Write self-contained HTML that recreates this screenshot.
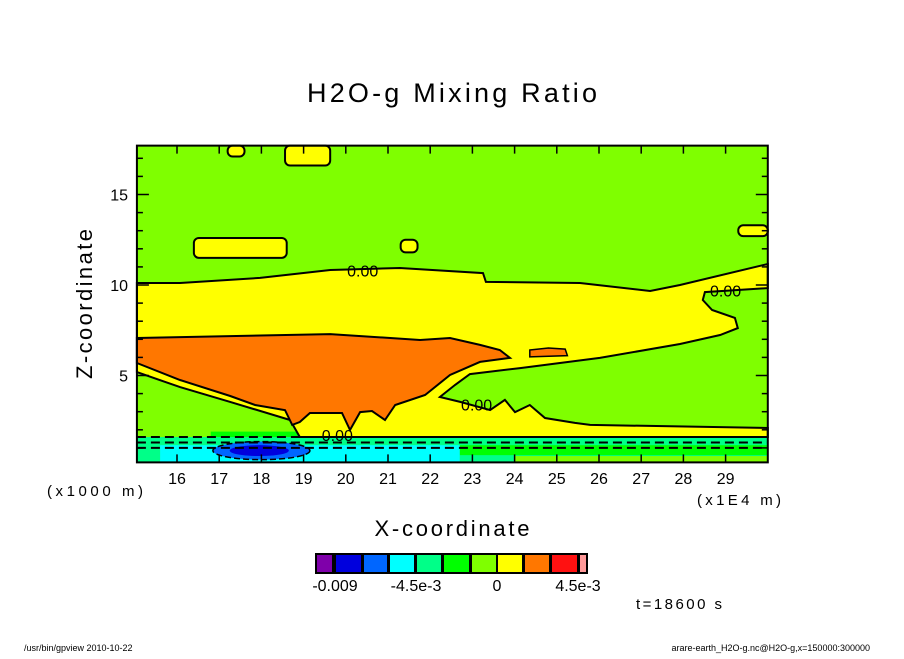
<!DOCTYPE html>
<html><head><meta charset="utf-8"><style>
body{margin:0;background:#fff;}
svg text{font-family:"Liberation Sans",sans-serif;fill:#000;}
</style></head><body>
<svg id="c" width="904" height="654" viewBox="0 0 904 654" xmlns="http://www.w3.org/2000/svg">
<text x="452" y="102" font-size="27" text-anchor="middle" textLength="290" lengthAdjust="spacing">H2O-g Mixing Ratio</text>
<g id="plot"></g>
<text x="452" y="536" font-size="22" text-anchor="middle" textLength="155" lengthAdjust="spacing">X-coordinate</text>
<text transform="translate(92,304) rotate(-90)" font-size="22" text-anchor="middle" textLength="150" lengthAdjust="spacing">Z-coordinate</text>
<text x="95" y="496" font-size="15" text-anchor="middle" textLength="96" lengthAdjust="spacing">(x1000 m)</text>
<text x="739" y="505" font-size="15" text-anchor="middle" textLength="84" lengthAdjust="spacing">(x1E4 m)</text>
<g id="cbar"></g>
<text x="679" y="609" font-size="15" text-anchor="middle" textLength="86" lengthAdjust="spacing">t=18600 s</text>
<text x="24" y="651" font-size="9">/usr/bin/gpview   2010-10-22</text>
<text x="870" y="651" font-size="9" text-anchor="end">arare-earth_H2O-g.nc@H2O-g,x=150000:300000</text>
</svg>
<script>
const xTicks=[16,17,18,19,20,21,22,23,24,25,26,27,28,29];
const zTicks=[5,10,15];
const cbColors=["#7f00aa","#0000dd","#0066ff","#00ffff","#00ff88","#00ff00","#7fff00","#ffff00","#ff7700","#ff1111","#ff9999"];
const cbLabels=["-0.009","-4.5e-3","0","4.5e-3"];
const yellowMain=[[15.05,10.11],[16.07,10.11],[17.97,10.39],[19.63,10.83],[21.28,10.94],[23.25,10.66],[23.32,10.17],[25.55,10.11],[27.21,9.67],[27.92,10.0],[30,11.16],[30,9.83],[28.51,9.61],[28.46,9.17],[28.68,8.62],[29.22,8.18],[29.29,7.62],[28.87,7.24],[27.92,6.74],[26.02,5.97],[24.13,5.41],[22.94,5.08],[22.59,4.48],[22.23,3.81],[22.71,3.54],[23.42,3.09],[23.77,3.65],[24.01,2.98],[24.36,3.37],[24.72,2.65],[25.43,2.38],[25.79,2.27],[30,2.10],[30,1.60],[18.91,1.60],[18.68,2.54],[17.26,3.54],[16.07,4.36],[15.05,5.19]];
const orangeMain=[[15.05,7.07],[19.63,7.29],[21.76,6.96],[22.47,7.07],[23.18,6.69],[23.65,6.41],[23.89,5.97],[23.18,5.75],[22.47,5.03],[21.88,3.92],[21.17,3.37],[20.93,2.54],[20.62,3.04],[20.34,2.98],[20.10,1.99],[19.91,2.93],[19.15,2.93],[18.91,2.43],[18.73,2.27],[18.56,3.09],[17.85,3.37],[17.26,3.87],[16.07,4.75],[15.05,5.69]];
const orangeSmall=[[24.36,6.41],[24.8,6.52],[25.2,6.46],[25.25,6.1],[24.36,6.03]];
const yellowBlobs=[[17.2,17.1,17.6,17.7],[18.56,16.6,19.63,17.7],[16.4,11.5,18.6,12.6],[21.3,11.8,21.7,12.5],[29.3,12.7,30,13.3]];
const contourLabels=[[20.4,10.8],[23.1,3.4],[19.8,1.7],[29.0,9.7]];
const xMin=15.05,xMax=30,zMin=0.2,zMax=17.7;
const X=v=>177+(v-16)*42.2, Z=v=>466-v*18.1;
const NS="http://www.w3.org/2000/svg";
const plot=document.getElementById('plot'), cb=document.getElementById('cbar');
function mk(t,a,p){const e=document.createElementNS(NS,t);for(const k in a)e.setAttribute(k,a[k]);(p||plot).appendChild(e);return e;}
function pts(arr){return arr.map(p=>X(p[0]).toFixed(1)+','+Z(p[1]).toFixed(1)).join(' ');}
const x0=X(xMin),x1=X(xMax),y0=Z(zMax),y1=Z(zMin);
let e;
e=mk('rect',{x:x0,y:y0,width:x1-x0,height:y1-y0,fill:'#7fff00'});


e=mk('rect',{x:x0,y:Z(1.6),width:x1-x0,height:y1-Z(1.6),fill:'#00ff88'});


e=mk('rect',{x:X(22.7),y:Z(1.15),width:x1-X(22.7),height:Z(0.6)-Z(1.15),fill:'#00ff00'});


e=mk('rect',{x:X(24),y:Z(0.55),width:x1-X(24),height:y1-Z(0.55),fill:'#7fff00'});


e=mk('rect',{x:X(15.6),y:Z(1.15),width:X(22.7)-X(15.6),height:y1-Z(1.15),fill:'#00ffff'});


e=mk('rect',{x:X(16.8),y:Z(1.9),width:X(19.2)-X(16.8),height:Z(1.6)-Z(1.9),fill:'#00ff00'});


e=mk('ellipse',{cx:X(18),cy:Z(0.85),rx:1.15*42.2,ry:0.5*18.1,fill:'#0066ff',stroke:'#000','stroke-width':1.5,'stroke-dasharray':'6,3'});


e=mk('ellipse',{cx:X(17.95),cy:Z(0.85),rx:0.7*42.2,ry:0.3*18.1,fill:'#0000dd'});


[1.6,1.3,1.0].forEach(z=>{
 e=mk('line',{x1:x0,x2:x1,y1:Z(z),y2:Z(z),stroke:'#000','stroke-width':2,'stroke-dasharray':'9,5'});
 
 
});
e=mk('polygon',{points:pts(yellowMain),fill:'#ffff00',stroke:'#000','stroke-width':2});


e=mk('polygon',{points:pts(orangeMain),fill:'#ff7700',stroke:'#000','stroke-width':2});


e=mk('polygon',{points:pts(orangeSmall),fill:'#ff7700',stroke:'#000','stroke-width':1.5});


yellowBlobs.forEach(b=>{
 e=mk('rect',{x:X(b[0]),y:Z(b[3]),width:X(b[2])-X(b[0]),height:Z(b[1])-Z(b[3]),rx:5,fill:'#ffff00',stroke:'#000','stroke-width':2});
 
 
});
contourLabels.forEach(c=>{
 e=mk('text',{x:X(c[0]),y:Z(c[1])+6,'font-size':16,'text-anchor':'middle'});
 e.textContent='0.00';
 
 
});
e=mk('rect',{x:x0,y:y0,width:x1-x0,height:y1-y0,fill:'none',stroke:'#000','stroke-width':2});


xTicks.forEach(v=>{
 mk('line',{x1:X(v),x2:X(v),y1:y1,y2:y1-8,stroke:'#000','stroke-width':1.5});
 mk('line',{x1:X(v),x2:X(v),y1:y0,y2:y0+8,stroke:'#000','stroke-width':1.5});
 e=mk('text',{x:X(v),y:484,'font-size':16,'text-anchor':'middle'});
 e.textContent=v;
 
 
});
for(let z=1;z<=17;z++){
 const L=zTicks.includes(z)?12:6;
 mk('line',{x1:x0,x2:x0+L,y1:Z(z),y2:Z(z),stroke:'#000','stroke-width':1.5});
 mk('line',{x1:x1,x2:x1-L,y1:Z(z),y2:Z(z),stroke:'#000','stroke-width':1.5});
}
zTicks.forEach(v=>{
 e=mk('text',{x:128,y:Z(v)+6,'font-size':16,'text-anchor':'end'});
 e.textContent=v;
 
 
});
const cbX=[316,335,363,389,416,443,471,497,524,551,579], cbW=[17,27,25,26,26,27,26,26,26,27,8];
cbColors.forEach((c,i)=>{
 e=mk('rect',{x:cbX[i],y:554,width:cbW[i],height:19,fill:c,stroke:'#000','stroke-width':2},cb);
 
 
});
const lblX=[335,416,497,578];
cbLabels.forEach((t,i)=>{
 e=mk('text',{x:lblX[i],y:591,'font-size':16,'text-anchor':'middle'},cb);
 e.textContent=t;
 
 
});
</script>
</body></html>
